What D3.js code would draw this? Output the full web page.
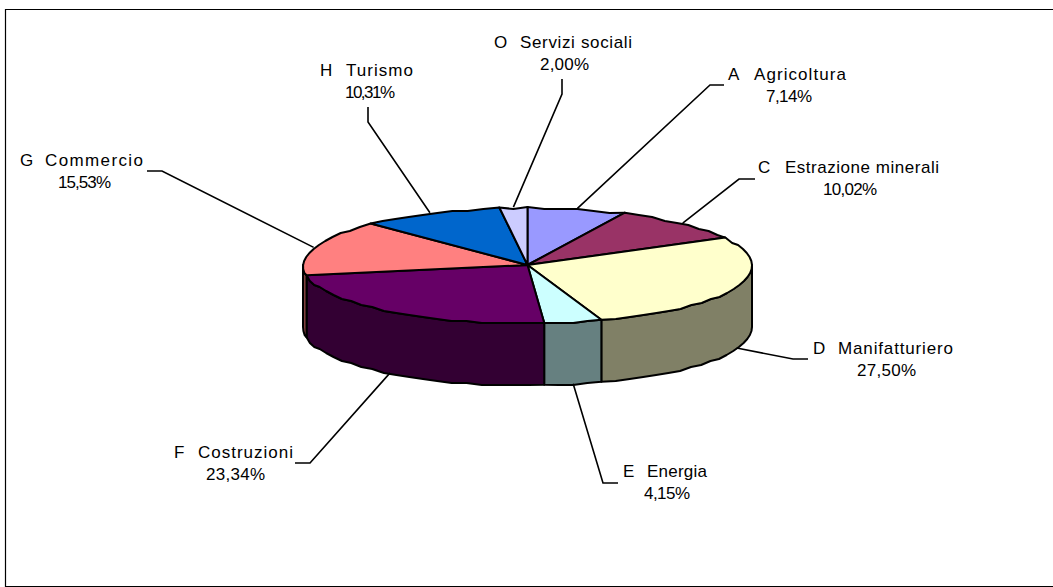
<!DOCTYPE html>
<html><head><meta charset="utf-8">
<style>html,body{margin:0;background:#fff}svg{display:block}text{font-family:"Liberation Sans",Arial,sans-serif;font-size:17px;fill:#000}</style>
<script src="https://cdn.jsdelivr.net/npm/d3@7/dist/d3.min.js"></script></head><body>
<script>
const codes=["A","C","D","E","F","G","H","O"];
const names=["Agricoltura","Estrazione minerali","Manifatturiero","Energia","Costruzioni","Commercio","Turismo","Servizi sociali"];
const shares=[7.14,10.02,27.50,4.15,23.34,15.53,10.31,2.00];
const topColors=["#9999ff","#993366","#ffffcc","#ccffff","#660066","#ff8080","#0066cc","#ccccff"];
const sideColors=["#666699","#662244","#808066","#668080","#330033","#804040","#003366","#666680"];
// label layout, measured on the picture
const codeX=[728,758,813,623,174,20,320,494];
const nameX=[754,785,838,647,198,45,346,520];
const nameW=[92,154,115,60,95,98,67,112];
const pctX=[766,823,857,644,206,58,345,540];
const pctW=[46,54,59,46,59,53,50,49];
const baseY=[80,173,354,477,458,166,76,48];
const leaderEnd=[[724,85],[755,179],[808,359],[618,483],[295,463],[147,171],[368,107],[562,79]];
const leaderElbow=[[710,85],[739,179],[793,359],[603,483],[310,463],[162,171],[368,122],[562,94]];

const W=1053,H=587,cx=527.5,cy=265,rx=224.5,ry=58,depth=62;
const svg=d3.select("body").append("svg").attr("width",W).attr("height",H);
svg.append("path").attr("d","M1053,9.5H5.5V586.5H1053").attr("fill","none").attr("stroke","#000").attr("stroke-width",1.2);

const pie=d3.pie().sort(null)(shares);
const xAt=a=>cx+rx*Math.sin(a), yAt=a=>cy-ry*Math.cos(a);
const line=d3.line();
// slightly stepped rim, like the coarse outline of the source rendering
const arcPts=(a0,a1,dy=0)=>{
  const n=Math.max(2,Math.round(Math.abs(a1-a0)/(4*Math.PI/180)));
  return d3.range(0,n+1).map(i=>{
    const a=a0+(a1-a0)*i/n,x=xAt(a),y=yAt(a)+dy;
    return (i===0||i===n)?[x,y]:[x,Math.round(y/2)*2+1];
  });
};
const PI=Math.PI;
pie.forEach((d,i)=>{
  const a0=Math.max(d.startAngle,PI/2),a1=Math.min(d.endAngle,3*PI/2);
  if(a1<=a0)return;
  const pts=arcPts(a0,a1).concat(arcPts(a1,a0,depth));
  svg.append("path").attr("d",line(pts)+"Z").attr("fill",sideColors[i]).attr("stroke","#000").attr("stroke-width",2).attr("stroke-linejoin","round");
});
pie.forEach((d,i)=>{
  const pts=[[cx,cy]].concat(arcPts(d.startAngle,d.endAngle));
  svg.append("path").attr("d",line(pts)+"Z").attr("fill",topColors[i]).attr("stroke","#000").attr("stroke-width",2).attr("stroke-linejoin","round");
});
pie.forEach((d,i)=>{
  const m=(d.startAngle+d.endAngle)/2;
  const wall=(m>PI/2&&m<3*PI/2)?depth:0;
  const pts=[[xAt(m),yAt(m)+wall],leaderElbow[i],leaderEnd[i]];
  svg.append("path").attr("d",line(pts)).attr("fill","none").attr("stroke","#000").attr("stroke-width",1.6);
  svg.append("text").attr("x",codeX[i]).attr("y",baseY[i]).text(codes[i]);
  svg.append("text").attr("x",nameX[i]).attr("y",baseY[i]).attr("textLength",nameW[i]).attr("lengthAdjust","spacing").text(names[i]);
  svg.append("text").attr("x",pctX[i]).attr("y",baseY[i]+22).attr("textLength",pctW[i]).attr("lengthAdjust","spacing").text(d3.format(".2f")(shares[i]).replace(".",",")+"%");
});
</script></body></html>
